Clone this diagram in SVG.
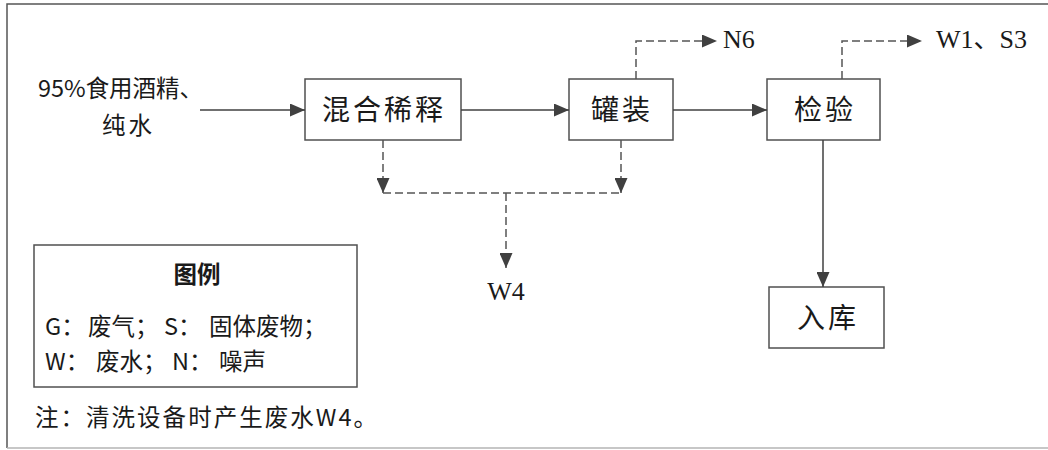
<svg xmlns="http://www.w3.org/2000/svg" width="1048" height="450" viewBox="0 0 1048 450">
  <defs>
    <marker id="arrow" viewBox="0 0 15 13" refX="15" refY="6.5" markerWidth="15" markerHeight="13" markerUnits="userSpaceOnUse" orient="auto">
      <path d="M0,0 L15,6.5 L0,13 Z" fill="#404040"/>
    </marker>
    <style>
      .box { fill: #ffffff; stroke: #505050; stroke-width: 1.5; }
      .lbl { font-family: "Noto Sans CJK SC", "Liberation Sans", sans-serif; font-size: 28px; fill: #1a1a1a; text-anchor: middle; letter-spacing: 3px; }
      .flow { fill: none; stroke: #404040; stroke-width: 1.5; }
      .dash { fill: none; stroke: #555555; stroke-width: 1.5; stroke-dasharray: 8 4; }
      .code { font-family: "Liberation Serif", "Noto Sans CJK SC", serif; font-size: 26px; fill: #1a1a1a; }
      .sans { font-family: "Noto Sans CJK SC", "Liberation Sans", sans-serif; font-size: 23.5px; fill: #1a1a1a; }
    </style>
  </defs>

  <rect width="1048" height="450" fill="#ffffff"/>
  <!-- page frame -->
  <path d="M1048,4 L7,4 L7,448" fill="none" stroke="#555555" stroke-width="1.5"/>
  <path d="M7,448 L1048,448" fill="none" stroke="#b4b4b4" stroke-width="1.5"/>

  <!-- raw materials -->
  <g id="input">
    <text class="sans" x="38" y="97" textLength="165" lengthAdjust="spacing">95%食用酒精、</text>
    <text class="sans" x="102" y="134" textLength="50" lengthAdjust="spacing">纯水</text>
  </g>

  <g id="mix">
    <rect class="box" x="305" y="79" width="156" height="61"/>
    <text class="lbl" x="384" y="120">混合稀释</text>
  </g>

  <g id="canning">
    <rect class="box" x="569" y="79" width="104" height="61"/>
    <text class="lbl" x="622" y="120">罐装</text>
  </g>

  <g id="inspect">
    <rect class="box" x="767" y="79" width="113" height="61"/>
    <text class="lbl" x="825" y="120">检验</text>
  </g>

  <g id="storage">
    <rect class="box" x="769" y="287" width="115" height="61"/>
    <text class="lbl" x="828" y="328">入库</text>
  </g>

  <g id="outputs">
    <text class="code" x="723" y="48">N6</text>
    <text class="code" x="936" y="48">W1、S3</text>
    <text class="code" x="506" y="300" text-anchor="middle">W4</text>
  </g>

  <g id="connectors">
    <!-- main process flow -->
    <path class="flow" d="M200,110 L305,110" marker-end="url(#arrow)"/>
    <path class="flow" d="M461,110 L569,110" marker-end="url(#arrow)"/>
    <path class="flow" d="M673,110 L767,110" marker-end="url(#arrow)"/>
    <path class="flow" d="M823,140 L823,287" marker-end="url(#arrow)"/>
    <!-- emissions -->
    <path class="dash" d="M636,79 L636,41 L717,41" marker-end="url(#arrow)"/>
    <path class="dash" d="M842,79 L842,41 L922,41" marker-end="url(#arrow)"/>
    <path class="dash" d="M383,140 L383,193" marker-end="url(#arrow)"/>
    <path class="dash" d="M621,140 L621,193" marker-end="url(#arrow)"/>
    <path class="dash" d="M383,193 L621,193"/>
    <path class="dash" d="M506,193 L506,268" marker-end="url(#arrow)"/>
  </g>

  <!-- legend -->
  <g id="legend">
    <rect x="34" y="245" width="323" height="142" fill="none" stroke="#505050" stroke-width="1.5"/>
    <text class="sans" x="197" y="283" text-anchor="middle" font-weight="bold">图例</text>
    <text class="sans" y="335"><tspan x="45">G：</tspan><tspan x="88">废气；</tspan><tspan x="164">S：</tspan><tspan x="209">固体废物；</tspan></text>
    <text class="sans" y="370"><tspan x="45">W：</tspan><tspan x="96">废水；</tspan><tspan x="172">N：</tspan><tspan x="219">噪声</tspan></text>
  </g>

  <g id="note">
    <text class="sans" x="35" y="426" textLength="342" lengthAdjust="spacing">注：清洗设备时产生废水W4。</text>
  </g>
</svg>
